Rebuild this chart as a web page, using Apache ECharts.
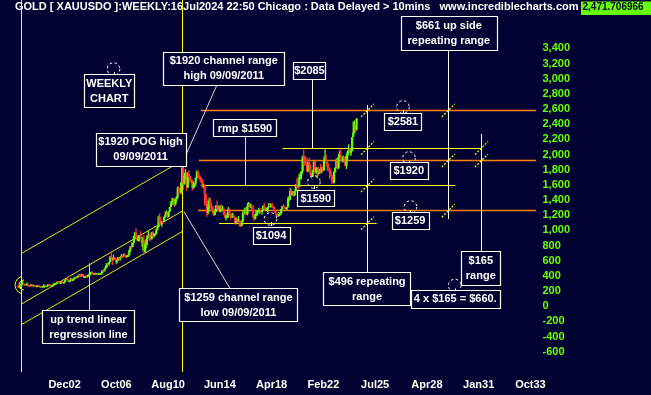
<!DOCTYPE html>
<html><head><meta charset="utf-8">
<script src="https://cdn.jsdelivr.net/npm/echarts@6/dist/echarts.min.js"></script>
<style>html,body{margin:0;padding:0;background:#020232;}#c{width:651px;height:395px;}</style>
</head><body><div id="c"></div>
<script>
// x unit: months since Feb 1999; first candle = Jun 1999
const firstMonth = 4;
const xTickLabels = ['', 'Dec02', 'Oct06', 'Aug10', 'Jun14', 'Apr18', 'Feb22', 'Jul25', 'Apr28', 'Jan31', 'Oct33'];
const yLabelMin = -600, yLabelMax = 3400;

// monthly [open, high, low, close]
const gold1999 = [[268,269,256,261],[261,262,252,255],[255,261,252,255],[255,307,253,299],[299,338,296,300],[300,302,287,292],[292,294,279,288]];
const gold2000 = [[288,296,279,284],[284,313,282,293],[293,296,275,278],[278,286,273,274],[274,277,270,273],[273,294,272,289],[289,290,276,277],[277,280,271,277],[277,278,268,273],[273,275,264,264],[264,271,263,270],[270,275,268,274]];
const gold2001 = [[274,274,262,265],[265,268,255,267],[267,268,255,258],[258,265,255,264],[264,292,263,266],[266,275,265,271],[271,271,264,266],[266,277,265,273],[273,294,270,293],[293,294,277,279],[279,283,272,275],[275,281,272,279]];
const gold2002 = [[279,288,278,282],[282,311,281,297],[297,304,290,302],[302,310,300,309],[309,327,307,326],[326,332,315,318],[318,323,300,304],[304,318,301,312],[312,325,310,324],[324,325,309,317],[317,323,314,318],[318,349,316,347]];
const gold2003 = [[347,372,343,367],[367,389,344,347],[347,352,321,334],[334,342,319,337],[337,372,334,364],[364,372,341,346],[346,362,341,354],[354,379,349,375],[375,391,371,385],[385,389,363,384],[384,398,373,398],[398,417,396,416]];
const gold2004 = [[416,430,394,402],[402,419,395,397],[397,430,390,426],[426,428,385,388],[388,396,372,394],[394,400,382,395],[395,409,386,391],[391,416,389,408],[408,418,398,416],[416,430,410,428],[428,456,422,453],[453,456,431,438]];
const gold2005 = [[438,438,415,423],[423,439,410,436],[436,446,425,428],[428,438,420,435],[435,436,414,416],[416,442,414,436],[436,437,418,430],[430,448,430,434],[434,475,432,473],[473,477,460,470],[470,497,460,495],[495,540,490,518]];
const gold2006 = [[518,572,516,569],[569,575,540,556],[556,584,538,582],[582,660,580,654],[654,730,640,644],[644,645,543,614],[614,680,605,633],[633,650,610,624],[624,633,560,598],[598,610,562,604],[604,650,600,646],[646,648,603,632]];
const gold2007 = [[632,652,603,650],[650,689,645,665],[665,671,636,663],[663,694,660,679],[679,693,651,657],[657,674,640,650],[650,680,648,665],[665,676,650,673],[673,745,670,743],[743,795,723,789],[789,845,780,783],[783,838,784,834]];
const gold2008 = [[834,930,840,923],[923,975,880,971],[971,1030,915,916],[916,935,862,865],[865,937,850,886],[886,940,855,930],[930,988,905,914],[914,915,786,833],[833,910,740,871],[871,932,681,718],[718,830,705,814],[814,888,760,869]];
const gold2009 = [[869,932,800,927],[927,1006,900,942],[942,960,865,916],[916,920,865,883],[883,980,882,975],[975,990,915,927],[927,960,905,954],[954,965,930,955],[955,1025,950,1008],[1008,1070,1003,1040],[1040,1195,1040,1182],[1182,1227,1075,1096]];
const gold2010 = [[1096,1162,1075,1081],[1081,1125,1045,1118],[1118,1135,1088,1113],[1113,1184,1112,1179],[1179,1249,1166,1207],[1207,1265,1201,1244],[1244,1245,1157,1181],[1181,1250,1175,1248],[1248,1310,1245,1307],[1307,1388,1315,1357],[1357,1425,1330,1386],[1386,1432,1360,1421]];
const gold2011 = [[1421,1425,1310,1333],[1333,1415,1330,1411],[1411,1448,1380,1439],[1439,1577,1418,1556],[1556,1577,1462,1536],[1536,1557,1500,1500],[1500,1633,1478,1628],[1628,1913,1600,1826],[1826,1921,1535,1620],[1620,1760,1603,1722],[1722,1804,1670,1746],[1746,1765,1523,1566]];
const gold2012 = [[1566,1764,1562,1740],[1740,1791,1690,1711],[1711,1720,1628,1669],[1669,1678,1614,1664],[1664,1666,1527,1560],[1560,1642,1548,1604],[1604,1624,1564,1622],[1622,1693,1585,1692],[1692,1790,1685,1773],[1773,1796,1701,1719],[1719,1755,1672,1711],[1711,1722,1635,1675]];
const gold2013 = [[1675,1696,1626,1663],[1663,1681,1555,1578],[1578,1617,1562,1596],[1596,1605,1321,1476],[1476,1488,1338,1393],[1393,1416,1180,1234],[1234,1347,1208,1313],[1313,1434,1271,1396],[1396,1424,1293,1327],[1327,1361,1251,1323],[1323,1320,1220,1253],[1253,1268,1185,1202]];
const gold2014 = [[1202,1280,1201,1244],[1244,1333,1240,1326],[1326,1392,1277,1284],[1284,1331,1268,1296],[1296,1315,1240,1250],[1250,1326,1240,1327],[1327,1345,1280,1282],[1282,1322,1274,1287],[1287,1290,1206,1211],[1211,1255,1160,1172],[1172,1209,1130,1182],[1182,1238,1165,1184]];
const gold2015 = [[1184,1307,1167,1283],[1283,1290,1191,1213],[1213,1220,1142,1183],[1183,1225,1170,1182],[1182,1232,1168,1190],[1190,1206,1162,1172],[1172,1174,1077,1095],[1095,1170,1080,1132],[1132,1157,1098,1115],[1115,1191,1112,1142],[1142,1142,1052,1065],[1065,1088,1046,1061]];
const gold2016 = [[1061,1127,1062,1118],[1118,1263,1111,1238],[1238,1287,1208,1233],[1233,1303,1207,1293],[1293,1304,1200,1215],[1215,1362,1200,1321],[1321,1375,1310,1351],[1351,1367,1302,1309],[1309,1352,1305,1316],[1316,1317,1241,1273],[1273,1337,1171,1173],[1173,1180,1123,1152]];
const gold2017 = [[1152,1220,1147,1211],[1211,1264,1191,1249],[1249,1264,1195,1249],[1249,1295,1241,1268],[1268,1270,1214,1268],[1268,1296,1236,1242],[1242,1270,1205,1269],[1269,1331,1267,1322],[1322,1357,1275,1280],[1280,1306,1261,1271],[1271,1299,1264,1275],[1275,1307,1236,1303]];
const gold2018 = [[1303,1366,1303,1345],[1345,1362,1307,1318],[1318,1356,1303,1325],[1325,1366,1314,1315],[1315,1326,1282,1298],[1298,1309,1245,1253],[1253,1265,1211,1224],[1224,1224,1160,1201],[1201,1214,1180,1192],[1192,1243,1183,1215],[1215,1237,1196,1222],[1222,1284,1221,1282]];
const gold2019 = [[1282,1326,1276,1321],[1321,1347,1310,1313],[1313,1324,1281,1292],[1292,1310,1266,1284],[1284,1306,1267,1305],[1305,1439,1301,1409],[1409,1453,1382,1413],[1413,1555,1400,1520],[1520,1557,1460,1472],[1472,1517,1459,1513],[1513,1516,1445,1464],[1464,1525,1454,1517]];
const gold2020 = [[1517,1612,1517,1589],[1589,1689,1548,1585],[1585,1704,1451,1577],[1577,1748,1568,1686],[1686,1765,1670,1730],[1730,1785,1671,1781],[1781,1985,1757,1975],[1975,2075,1863,1968],[1968,1992,1848,1886],[1886,1933,1860,1879],[1879,1966,1764,1776],[1776,1906,1775,1898]];
const gold2021 = [[1898,1959,1802,1848],[1848,1875,1717,1734],[1734,1755,1677,1708],[1708,1798,1705,1769],[1769,1913,1765,1907],[1907,1916,1750,1770],[1770,1834,1751,1814],[1814,1832,1687,1814],[1814,1834,1721,1743],[1743,1813,1746,1783],[1783,1877,1759,1775],[1775,1831,1753,1829]];
const gold2022 = [[1829,1853,1780,1797],[1797,1974,1782,1909],[1909,2070,1890,1937],[1937,1998,1872,1897],[1897,1910,1787,1837],[1837,1879,1805,1807],[1807,1814,1681,1766],[1766,1807,1709,1711],[1711,1735,1615,1660],[1660,1730,1618,1633],[1633,1786,1617,1768],[1768,1833,1765,1824]];
const gold2023 = [[1824,1949,1823,1928],[1928,1959,1805,1827],[1827,2009,1810,1969],[1969,2048,1950,1990],[1990,2079,1932,1963],[1963,1983,1893,1919],[1919,1987,1902,1965],[1965,1970,1884,1940],[1940,1953,1846,1849],[1849,2009,1810,1983],[1983,2052,1931,2036],[2036,2135,2016,2063]];
const gold2024 = [[2063,2088,2002,2039],[2039,2065,1984,2044],[2044,2222,2039,2230],[2230,2431,2228,2286],[2286,2450,2277,2327],[2327,2387,2286,2326],[2326,2483,2319,2471]];

// annotation geometry in data units [x, price]
const orangeLevels = [[167.2, 2581], [165.4, 1920], [164.6, 1259]];
const yellowSegs = [[7.9,4036,7.9,-866],[151.1,4036,151.1,-866],[239.5,2085,416.7,2085],[167,1590,393.3,1590],[183.2,1094,323.4,1094]];
const channelSegs = [[7.9,698,151.1,1925],[7.9,32,151.1,1259],[7.9,-240,151.1,990]];
const whiteSegs = [[315.2,2653,315.2,448],[387.0,3387,387.0,1150],[416.5,2270,416.5,728],[266.5,2991,266.5,2085]];
const greySegs = [[207.2,2235,207.2,1590],[67.7,-49,67.7,566],[181.4,2916,152.6,1954],[193.0,237,152.1,1246]];
const tickMarks = [[315.2,2581],[315.2,2085],[315.2,1590],[315.2,1094],[387.0,2581],[387.0,1920],[387.0,1259],[416.5,2085],[416.5,1920]];
const circleMarks = [[89.5,3127],[346.7,2626],[352.1,1954],[353.4,1308],[267.6,1638],[229.0,1150],[392.7,274]];
const boxTexts = ['WEEKLY\nCHART','$1920 channel range\nhigh 09/09/2011','$1920 POG high\n09/09/2011','rmp $1590','$2085','$1590','$1094','$1259','$1920','$2581','$661 up side\nrepeating range','$165\nrange','4 x $165 = $660.','$496 repeating\nrange','up trend linear\nregression line','$1259 channel range\nlow 09/09/2011'];
const boxAnchors = [[85.7,2840],[187.5,3140],[113.5,2070],[206.3,2350],[263.6,3103],[269.2,1427],[229.4,939],[353.1,1126],[351.9,1785],[346.7,2433],[387.5,3608],[415.9,507],[393.2,98],[314.8,228],[67.2,-269],[200.5,21]];
const boxSizes = [[50,33],[121,32.6],[89.6,33],[63.4,17.4],[32.4,17],[37,16],[36.6,16.6],[37,17],[37.7,17],[37.4,16.7],[96.2,33.6],[39,33.7],[88.7,17.7],[87.4,33.4],[92.4,33.3],[118.4,32.7]];
const startMark = [8.2, 280];

const BG = '#020232', GREEN = '#66ff00', RED = '#ff3333', YEL = '#ffff00', ORG = '#ff8000';
const FONT = 'bold 11px "Liberation Sans", Arial, sans-serif';

const years = [gold1999,gold2000,gold2001,gold2002,gold2003,gold2004,gold2005,gold2006,gold2007,gold2008,gold2009,gold2010,gold2011,gold2012,gold2013,gold2014,gold2015,gold2016,gold2017,gold2018,gold2019,gold2020,gold2021,gold2022,gold2023,gold2024];
const candles = [].concat(...years).map((r, i) => [firstMonth + i + 0.5, r[0], r[1], r[2], r[3]]);
const xMax = 464.95;

function segSeries(segs, color, width, z, dash) {
  return {
    type: 'custom', z: z, silent: true, data: segs,
    encode: {x: [0, 2], y: [1, 3]},
    renderItem: (p, api) => {
      const a = api.coord([api.value(0), api.value(1)]);
      const b = api.coord([api.value(2), api.value(3)]);
      const crisp = v => Math.round(v - 0.5) + 0.5;
      let x1 = a[0], x2 = b[0], y1 = a[1], y2 = b[1];
      if (Math.abs(x1 - x2) < 0.01) { x1 = x2 = crisp(x1); }
      if (Math.abs(y1 - y2) < 0.01) { y1 = y2 = crisp(y1); }
      return {type: 'line', shape: {x1, y1, x2, y2}, style: {stroke: color, lineWidth: width, lineDash: dash || null}};
    }
  };
}

const chart = echarts.init(document.getElementById('c'), null, {renderer: 'canvas'});
chart.setOption({
  backgroundColor: BG,
  animation: false,
  grid: {left: 12.84, right: 115, top: 0, bottom: 21.95, show: false},
  xAxis: {
    type: 'value', min: 0, max: xMax, interval: 46,
    axisLine: {show: false}, axisTick: {show: false}, splitLine: {show: false},
    axisLabel: {color: '#ffffff', fontWeight: 'bold', fontSize: 11, fontFamily: 'Liberation Sans, Arial, sans-serif', margin: 6,
      showMinLabel: false, showMaxLabel: false,
      formatter: v => { const k = v / 46; return Math.abs(k - Math.round(k)) < 1e-6 ? (xTickLabels[Math.round(k)] || '') : ''; }}
  },
  yAxis: {
    type: 'value', position: 'right', min: -880, max: 4036.6, interval: 40,
    axisLine: {show: false}, axisTick: {show: false}, splitLine: {show: false},
    axisLabel: {color: GREEN, fontWeight: 'bold', fontSize: 11, fontFamily: 'Liberation Sans, Arial, sans-serif', margin: 6.5,
      formatter: v => { const r = Math.round(v); return (r % 200 === 0 && r >= yLabelMin && r <= yLabelMax) ? r.toLocaleString('en-US') : ''; }}
  },
  graphic: [
    {type: 'text', left: 15, top: 1, style: {text: 'GOLD [ XAUUSDO ]:WEEKLY:16Jul2024 22:50 Chicago : Data Delayed > 10mins   www.incrediblecharts.com', fill: '#ffffff', font: FONT}},
    {type: 'rect', shape: {x: 581, y: 1.5, width: 70, height: 13.5}, style: {fill: GREEN}},
    {type: 'text', left: 582.5, top: 2.5, style: {text: '2,471.706966', fill: '#020232', font: 'bold 10px "Liberation Sans", Arial, sans-serif'}}
  ],
  series: [
    segSeries(channelSegs, '#e6e600', 1, 2),
    segSeries(yellowSegs, YEL, 1, 3),
    segSeries(orangeLevels.map(l => [l[0], l[1], xMax, l[1]]), ORG, 1.3, 3),
    {
      type: 'custom', z: 5, silent: true, data: candles,
      encode: {x: 0, y: [1, 2, 3, 4]},
      renderItem: (p, api) => {
        const x = api.value(0), o = api.value(1), h = api.value(2), l = api.value(3), c = api.value(4);
        const pO = api.coord([x, o]), pC = api.coord([x, c]), pH = api.coord([x, h]), pL = api.coord([x, l]);
        const col = c >= o ? GREEN : RED;
        const top = Math.min(pO[1], pC[1]);
        return {type: 'group', children: [
          {type: 'line', shape: {x1: pO[0], y1: pH[1], x2: pO[0], y2: pL[1]}, style: {stroke: col, lineWidth: 1.3}},
          {type: 'rect', shape: {x: pO[0] - 1.1, y: top, width: 2.2, height: Math.max(1.5, Math.abs(pO[1] - pC[1]))}, style: {fill: col}}
        ]};
      }
    },
    segSeries(whiteSegs, '#ffffff', 1, 6),
    segSeries(greySegs, '#d8d8d8', 1, 6),
    {
      type: 'custom', z: 7, silent: true, data: tickMarks,
      renderItem: (p, api) => {
        const q = api.coord([api.value(0), api.value(1)]);
        return {type: 'line', shape: {x1: q[0] - 6.5, y1: q[1] + 6.5, x2: q[0] + 6.5, y2: q[1] - 6.5}, style: {stroke: YEL, lineWidth: 1.2, lineDash: [2, 1.5]}};
      }
    },
    {
      type: 'custom', z: 7, silent: true, data: circleMarks,
      renderItem: (p, api) => {
        const q = api.coord([api.value(0), api.value(1)]);
        return {type: 'group', children: [
          {type: 'circle', shape: {cx: q[0], cy: q[1], r: 6.3}, style: {fill: null, stroke: '#ffffff', lineWidth: 1, lineDash: [2.5, 2.5]}},
          {type: 'line', shape: {x1: Math.round(q[0]) + 0.5, y1: q[1] + 3, x2: Math.round(q[0]) + 0.5, y2: q[1] + 7}, style: {stroke: '#ffffff', lineWidth: 1}}
        ]};
      }
    },
    {
      type: 'custom', z: 6, silent: true, data: [startMark],
      renderItem: (p, api) => {
        const q = api.coord([api.value(0), api.value(1)]);
        return {type: 'group', children: [
          {type: 'arc', shape: {cx: q[0] + 2, cy: q[1], r: 5, startAngle: Math.PI * 0.5, endAngle: Math.PI * 1.5}, style: {fill: null, stroke: YEL, lineWidth: 1}},
          {type: 'arc', shape: {cx: q[0] + 2, cy: q[1], r: 9, startAngle: Math.PI * 0.6, endAngle: Math.PI * 1.4}, style: {fill: null, stroke: YEL, lineWidth: 1}}
        ]};
      }
    },
    {
      type: 'custom', z: 9, silent: true, data: boxAnchors,
      renderItem: (p, api) => {
        const q = api.coord([api.value(0), api.value(1)]);
        const sz = boxSizes[p.dataIndex];
        const x = Math.round(q[0] - sz[0] / 2) + 0.5, y = Math.round(q[1] - sz[1] / 2) + 0.5;
        return {type: 'group', children: [
          {type: 'rect', shape: {x: x, y: y, width: Math.round(sz[0]), height: Math.round(sz[1])}, style: {fill: BG, stroke: '#ffffff', lineWidth: 1.2}},
          {type: 'text', x: q[0], y: q[1] + 0.5, style: {text: boxTexts[p.dataIndex], fill: '#ffffff', font: FONT, align: 'center', verticalAlign: 'middle', lineHeight: 15}}
        ]};
      }
    }
  ]
});
</script></body></html>
